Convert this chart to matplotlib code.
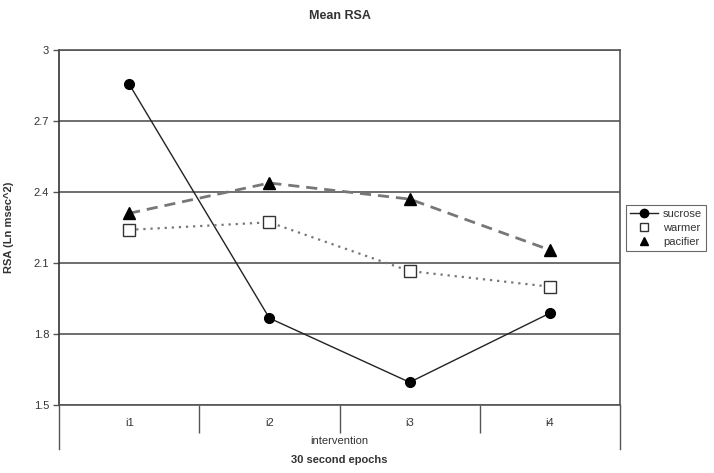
import matplotlib

matplotlib.use("Agg")
import matplotlib.pyplot as plt
from matplotlib.lines import Line2D

EPOCHS = ["i1", "i2", "i3", "i4"]
SUCROSE = [2.856, 1.867, 1.596, 1.888]
WARMER = [2.240, 2.272, 2.066, 2.000]
PACIFIER = [2.310, 2.438, 2.370, 2.155]
Y_TICKS = [1.5, 1.8, 2.1, 2.4, 2.7, 3.0]
Y_TICK_LABELS = ["1.5", "1.8", "2.1", "2.4", "2.7", "3"]

TEXT_COLOR = "#333333"
GRID_COLOR = "#555555"

plt.rcParams["font.family"] = ["Liberation Sans", "DejaVu Sans"]

fig = plt.figure(figsize=(7.14, 4.73), dpi=100)
ax = fig.add_axes([59 / 714, 68 / 473, 561 / 714, 355 / 473])

x = list(range(len(EPOCHS)))
ax.plot(x, SUCROSE, color="#222222", lw=1.0, marker="o", ms=7,
        mfc="black", mec="black", zorder=4)
ax.plot(x, WARMER, color="#777777", lw=1.6, ls=(0, (1, 2.2)), marker="s",
        ms=8, mfc="white", mec="#333333", mew=1.0, zorder=4)
ax.plot(x, PACIFIER, color="#777777", lw=2.0, ls=(0, (4, 2.5)), marker="^",
        ms=8, mfc="black", mec="black", zorder=4)

ax.set_xlim(-0.5, len(EPOCHS) - 0.5)
ax.set_ylim(1.5, 3.0)
ax.set_yticks(Y_TICKS)
ax.set_yticklabels(Y_TICK_LABELS)
ax.grid(axis="y", color=GRID_COLOR, lw=1.2)
ax.set_axisbelow(True)

ax.set_xticks(x)
ax.set_xticklabels(EPOCHS)
ax.tick_params(axis="x", which="major", length=0, pad=9,
               labelsize=8, labelcolor=TEXT_COLOR)
ax.set_xticks([i + 0.5 for i in x[:-1]], minor=True)
ax.tick_params(axis="x", which="minor", length=20, width=1.0,
               color=GRID_COLOR, direction="out")
ax.tick_params(axis="y", length=4, width=1.0, color=GRID_COLOR,
               labelsize=8, labelcolor=TEXT_COLOR, pad=3)

for side in ["top", "right", "left", "bottom"]:
    ax.spines[side].set_color(GRID_COLOR)
    ax.spines[side].set_linewidth(1.2)
ax.spines["left"].set_color("#333333")

for edge in [-0.5, len(EPOCHS) - 0.5]:
    ax.axvline(edge, ymin=-44 / 355, ymax=0, color=GRID_COLOR, lw=1.0,
               clip_on=False)

center_x = (59 + 561 / 2) / 714
ax.set_ylabel("RSA (Ln msec^2)", fontsize=8, fontweight="bold",
              color=TEXT_COLOR, labelpad=14)
fig.text(center_x, 1 - 441 / 473, "intervention", ha="center", va="center",
         fontsize=8, color=TEXT_COLOR)
fig.text(center_x, 1 - 460 / 473, "30 second epochs", ha="center",
         va="center", fontsize=8, fontweight="bold", color=TEXT_COLOR)
fig.text(center_x, 1 - 16 / 473, "Mean RSA", ha="center", va="center",
         fontsize=9, fontweight="bold", color=TEXT_COLOR)

handles = [
    Line2D([], [], color="#222222", lw=1.0, marker="o", ms=6,
           mfc="black", mec="black"),
    Line2D([], [], ls="none", marker="s", ms=6, mfc="white",
           mec="#333333"),
    Line2D([], [], ls="none", marker="^", ms=6, mfc="black", mec="black"),
]
leg = fig.legend(handles, ["sucrose", "warmer", "pacifier"],
                 loc="center left", bbox_to_anchor=(626 / 714, 1 - 228 / 473),
                 fontsize=8, frameon=True, fancybox=False, edgecolor="#444444",
                 handlelength=2.5, handletextpad=0.5, borderpad=0.35,
                 labelspacing=0.35, borderaxespad=0)
leg.get_frame().set_linewidth(0.8)
for text in leg.get_texts():
    text.set_color(TEXT_COLOR)

fig.savefig("out.png", dpi=100)
